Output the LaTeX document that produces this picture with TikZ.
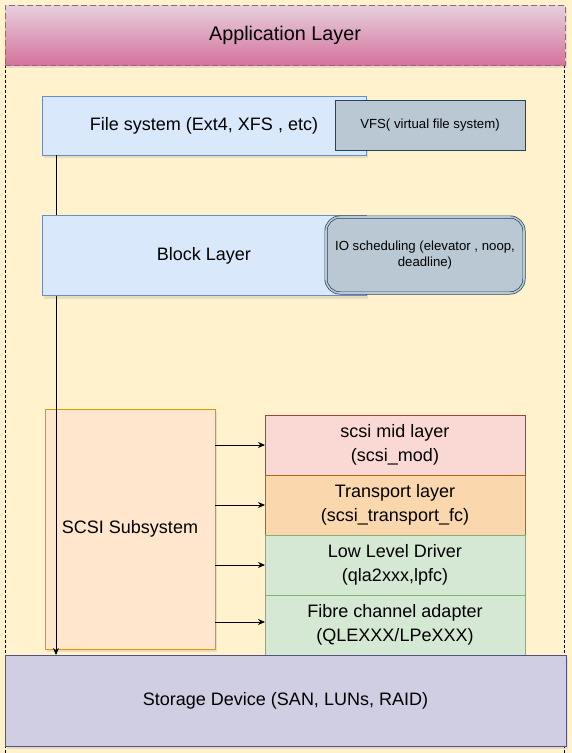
\documentclass[tikz,border=0pt]{standalone}
\usepackage{fontspec}
\setmainfont{Liberation Sans}
\usepackage{xcolor}
\usepackage{tikz}
\usetikzlibrary{arrows.meta,positioning,shadows}

\definecolor{bgyellow}{HTML}{FFF2CC}
\definecolor{apptop}{HTML}{E6D0DE}
\definecolor{appbot}{HTML}{D5739D}
\definecolor{appline}{HTML}{996185}
\definecolor{bluefill}{HTML}{DAE8FC}
\definecolor{blueline}{HTML}{6C8EBF}
\definecolor{greyfill}{HTML}{BAC8D3}
\definecolor{greyline}{HTML}{23445D}
\definecolor{orangefill}{HTML}{FFE6CC}
\definecolor{orangeline}{HTML}{D79B00}
\definecolor{redfill}{HTML}{FAD9D5}
\definecolor{redline}{HTML}{AE4132}
\definecolor{peachfill}{HTML}{FAD7AC}
\definecolor{peachline}{HTML}{B46504}
\definecolor{greenfill}{HTML}{D5E8D4}
\definecolor{greenline}{HTML}{82B366}
\definecolor{purplefill}{HTML}{D0CEE2}
\definecolor{purpleline}{HTML}{56517E}

\begin{document}
\begin{tikzpicture}[x=1pt,y=-1pt,
  layer/.style={draw,rectangle,line width=0.8pt,inner sep=0pt,outer sep=0pt,
    align=center,font=\fontsize{18}{23.5}\selectfont},
  small/.style={font=\fontsize{13.2}{16}\selectfont},
  shadowed/.style={drop shadow={shadow xshift=2pt,shadow yshift=-3pt,opacity=0.18}},
  flow/.style={line width=0.9pt,-{Stealth[length=7pt,width=6pt]}}]
  \useasboundingbox (0,0) rectangle (572,753);
  % yellow kernel area
  \fill[bgyellow] (0,0) rectangle (572,753);
  \draw[line width=0.7pt,dash pattern=on 3pt off 2pt] (5,5) -- (5,753);
  \draw[line width=0.7pt,dash pattern=on 3pt off 2pt] (564,5) -- (564,753);
  % user space
  \node[layer,shadowed,draw=appline,top color=apptop,bottom color=appbot,
    dash pattern=on 6pt off 3pt,line width=1pt,minimum width=560pt,minimum height=60pt,
    font=\fontsize{19.8}{23}\selectfont] (app) at (285,35) {Application Layer};
  % file system
  \node[layer,shadowed,fill=bluefill,draw=blueline,minimum width=324pt,minimum height=59pt]
    (fs) at (204,125.5) {File system (Ext4, XFS , etc)};
  \node[layer,small,fill=greyfill,draw=greyline,minimum width=190pt,minimum height=50pt]
    (vfs) at (430,125.5) {VFS( virtual file system)};
  % scsi stack
  \node[layer,shadowed,fill=orangefill,draw=orangeline,minimum width=170pt,minimum height=240pt]
    (scsi) at (130,529) {SCSI Subsystem};
  \node[layer,fill=redfill,draw=redline,minimum width=260pt,minimum height=60pt]
    (mid) at (395,445) {scsi mid layer\\(scsi\_mod)};
  \node[layer,fill=peachfill,draw=peachline,minimum width=260pt,minimum height=60pt,
    below=0pt of mid] (transport) {Transport layer\\(scsi\_transport\_fc)};
  \node[layer,fill=greenfill,draw=greenline,minimum width=260pt,minimum height=60pt,
    below=0pt of transport] (lld) {Low Level Driver\\(qla2xxx,lpfc)};
  \node[layer,fill=greenfill,draw=greenline,minimum width=260pt,minimum height=60pt,
    below=0pt of lld] (fca) {Fibre channel adapter\\(QLEXXX/LPeXXX)};
  % hardware
  \node[layer,shadowed,fill=purplefill,draw=purpleline,minimum width=561pt,minimum height=91pt]
    (storage) at (285.5,700.5) {Storage Device (SAN, LUNs, RAID)};
  % io path down the stack
  \draw[flow] ([xshift=14pt]fs.south west) -- ([xshift=14pt]fs.south west |- storage.north);
  % block layer
  \node[layer,shadowed,fill=bluefill,draw=blueline,minimum width=324pt,minimum height=80pt]
    (block) at (204,255.5) {Block Layer};
  \node[layer,small,fill=greyfill,draw=greyline,double=greyfill,double distance=1.6pt,
    line width=0.7pt,rounded corners=14pt,minimum width=198pt,minimum height=76pt]
    (iosched) at (425,255) {IO scheduling (elevator , noop,\\deadline)};
  % scsi to its layers
  \foreach \n/\dy in {mid/0,transport/0,lld/0,fca/3}
    \draw[flow] ([yshift=\dy]scsi.east |- \n.west) -- ([yshift=\dy]\n.west);
\end{tikzpicture}
\end{document}
